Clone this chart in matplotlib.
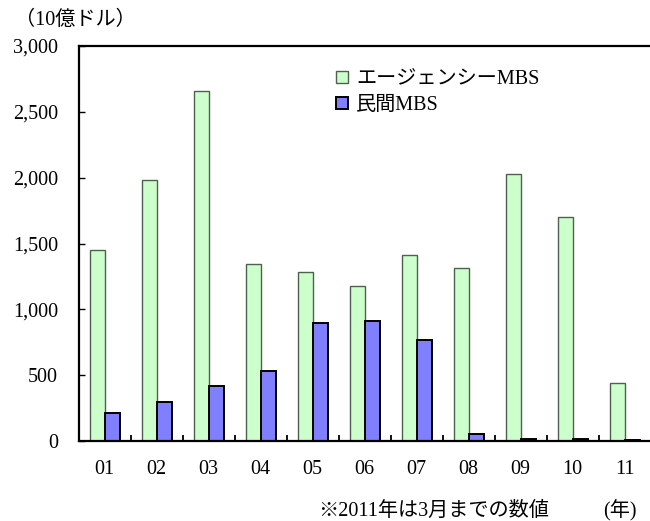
import numpy as np
import matplotlib
matplotlib.use('Agg')
import matplotlib.pyplot as plt
from matplotlib.ticker import FuncFormatter

plt.rcParams['font.family'] = ['Liberation Serif', 'Noto Sans CJK JP']

# データ（10億ドル）
years = ['01', '02', '03', '04', '05', '06', '07', '08', '09', '10', '11']
agency = [1450, 1985, 2660, 1345, 1280, 1178, 1415, 1315, 2030, 1705, 437]
private = [214, 296, 419, 531, 897, 910, 768, 51, 18, 18, 8]

fig = plt.figure(figsize=(6.5, 5.21), dpi=100)
ax = fig.add_axes([78.7 / 650, 80 / 521, 572 / 650, 395 / 521])

x = np.arange(len(years))
w = 0.29
ax.bar(x - w / 2, agency, w, color='#CCFFCC', edgecolor='#506050', linewidth=1.0,
       label='エージェンシーMBS')
ax.bar(x + w / 2, private, w, color='#8080FF', edgecolor='black', linewidth=1.4,
       label='民間MBS')

ax.set_xlim(-0.5, len(years) - 0.5)
ax.set_ylim(0, 3000)
ax.set_yticks(np.arange(0, 3001, 500))
ax.yaxis.set_major_formatter(FuncFormatter(lambda v, p: f'{int(v):,}'))

ax.set_xticks(x)
ax.set_xticklabels(years)
ax.set_xticks(np.arange(0.5, len(years) - 0.5, 1), minor=True)
ax.tick_params(axis='x', which='major', length=0, pad=14, labelsize=14.5)
ax.tick_params(axis='x', which='minor', direction='in', length=4.5, width=1.3)
ax.tick_params(axis='y', direction='in', length=4.5, width=1.0, pad=15, labelsize=14.5)

for s in ['left', 'bottom', 'top']:
    ax.spines[s].set_linewidth(1.6)
ax.spines['right'].set_visible(False)

ax.legend(loc='upper left', bbox_to_anchor=(326 / 650, 1 - 60 / 521),
          bbox_transform=fig.transFigure, frameon=False, fontsize=14.5,
          handlelength=0.6, handleheight=0.6, handletextpad=0.4,
          labelspacing=0.35, borderpad=0)

fig.text(15 / 650, 1 - 20 / 521, '（10億ドル）', fontsize=14.5, va='center', ha='left')
fig.text(318 / 650, 1 - 511 / 521, '※2011年は3月までの数値', fontsize=14.5,
         va='center', ha='left')
fig.text(603 / 650, 1 - 511 / 521, '(年)', fontsize=14.5, va='center', ha='left')

fig.savefig('out.png', dpi=100)
